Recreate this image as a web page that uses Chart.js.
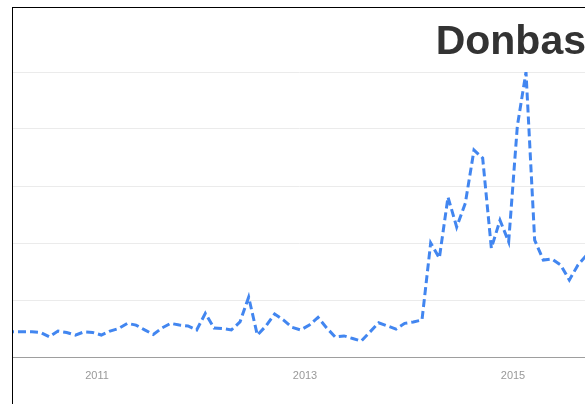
<!DOCTYPE html>
<html>
<head>
<meta charset="utf-8">
<script src="https://cdn.jsdelivr.net/npm/chart.js@4/dist/chart.umd.min.js"></script>
<style>
  html, body { margin: 0; padding: 0; background: #fff; }
  body { width: 585px; height: 404px; overflow: hidden; position: relative; }
  #frame { position: absolute; left: 12px; top: 7px; width: 700px; height: 500px;
           border-left: 1px solid #000; border-top: 1px solid #000; }
  #box { position: absolute; left: 0; top: 0; width: 573px; height: 396px; }
</style>
</head>
<body>
<div id="frame"><div id="box"><canvas id="myChart"></canvas></div></div>
<script>
// datos mensuales (feb 2010 - sep 2015)
const startYear = 2010;
const startMonth = 1; // febrero (0 = enero)
const values = [
  8.8, 8.9, 8.9, 8.9, 8.6, 7.1, 9.1, 8.6, 7.7, 8.8, 8.6,
  7.7, 9.1, 10, 11.8, 11.2, 9.5, 7.9, 10.2, 11.8, 11.2, 10.9, 9.5,
  15.3, 10.2, 10, 9.5, 12.3, 21, 7.7, 10.9, 15.1, 13, 10.4, 9.5,
  11.2, 13.9, 10.2, 7, 7.4, 6.5, 5.6, 8.8, 12, 10.9, 9.8, 11.8,
  12.3, 13, 40, 34.7, 56.1, 45.6, 54, 72.6, 69.8, 38.2, 48, 40.4,
  81, 100, 41, 34, 34.4, 32.3, 27, 32.3, 35.8
];
const yearTicks = [2011, 2013, 2015];
const titleText = 'Donbas';

// cada punto en la mitad de su mes
const points = values.map((v, i) => {
  const m = startMonth + i;
  return { x: startYear + (m + 0.5) / 12, y: v };
});

const ctx = document.getElementById('myChart');
const myChart = new Chart(ctx, {
  type: 'line',
  data: {
    datasets: [{
      label: titleText,
      data: points,
      borderColor: '#4286f0',
      borderWidth: 3,
      borderDash: [8, 4],
      pointRadius: 0,
      tension: 0,
      fill: false
    }]
  },
  options: {
    responsive: true,
    maintainAspectRatio: false,
    animation: false,
    layout: { padding: { left: 0, right: 0, top: 0, bottom: 9.8 } },
    plugins: {
      legend: { display: false },
      tooltip: { enabled: false },
      title: {
        display: true,
        text: titleText,
        align: 'end',
        color: '#333',
        font: { family: "'Liberation Sans', Arial, sans-serif", size: 41, weight: 'bold' },
        padding: { top: 10, bottom: 4.8 }
      }
    },
    scales: {
      x: {
        type: 'linear',
        min: 2011 - 84 / 104,
        max: 2011 + (586 - 97) / 104,
        afterBuildTicks: (axis) => { axis.ticks = yearTicks.map(v => ({ value: v })); },
        grid: { display: false, drawTicks: false },
        border: { display: true, color: '#9e9e9e', width: 1 },
        ticks: {
          padding: 12,
          color: '#999',
          font: { family: "'Liberation Sans', Arial, sans-serif", size: 11 },
          callback: (v) => String(v)
        }
      },
      y: {
        min: 0,
        max: 100,
        ticks: { display: false, stepSize: 20 },
        grid: { color: '#ebebeb', drawTicks: false },
        border: { display: false }
      }
    }
  }
});
</script>
</body>
</html>
